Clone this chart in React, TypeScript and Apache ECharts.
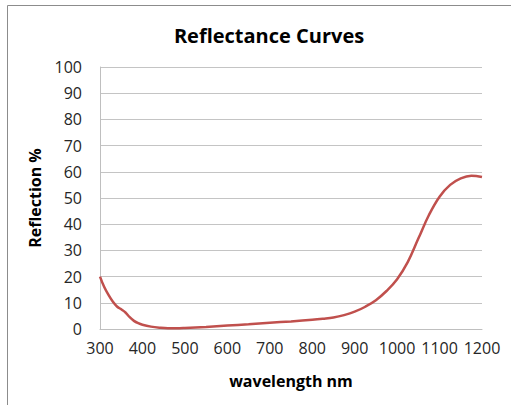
import React, { useEffect, useRef } from "react";
import * as echarts from "echarts";

const wavelengths = [300, 310, 320, 330, 340, 350, 360, 370, 380, 390, 400, 420, 440, 460, 480, 500, 550, 600, 650, 700, 750, 800, 825, 850, 875, 900, 925, 950, 975, 1000, 1025, 1050, 1075, 1100, 1125, 1150, 1175, 1200];
const reflection = [20, 16, 13, 10.5, 8.6, 7.5, 6.3, 4.5, 3.1, 2.2, 1.6, 0.9, 0.5, 0.3, 0.3, 0.4, 0.8, 1.3, 1.8, 2.4, 2.9, 3.5, 3.9, 4.4, 5.3, 6.6, 8.5, 11, 14.5, 19, 25.5, 34.5, 43.5, 50.5, 55, 57.5, 58.5, 58];

const titleText = "Reflectance Curves";
const xName = "wavelength nm";
const yName = "Reflection %";

export default function App() {
  const ref = useRef<HTMLDivElement>(null);
  useEffect(() => {
    if (!ref.current) return;
    const chart = echarts.init(ref.current, null, { renderer: "svg" });
    const font = "'Open Sans', 'Liberation Sans', sans-serif";
    chart.setOption({
      animation: false,
      backgroundColor: "#ffffff",
      title: {
        text: titleText,
        left: 264,
        top: 20,
        textAlign: "center",
        textStyle: { fontFamily: font, fontWeight: "bold", fontSize: 20, color: "#000000" },
      },
      graphic: [
        {
          type: "rect",
          shape: { x: 7.5, y: 5.5, width: 600, height: 500 },
          style: { fill: "none", stroke: "#8c8c8c", lineWidth: 1 },
          silent: true,
        },
      ],
      grid: { left: 100, right: 29, top: 67, bottom: 76, containLabel: false },
      xAxis: {
        type: "value",
        min: 300,
        max: 1200,
        interval: 100,
        name: xName,
        nameLocation: "middle",
        nameGap: 44,
        nameTextStyle: { fontFamily: font, fontWeight: "bold", fontSize: 16, color: "#000000" },
        axisLine: { show: true, lineStyle: { color: "#bfbfbf", width: 1 } },
        axisTick: { show: false },
        splitLine: { show: false },
        axisLabel: { fontFamily: font, fontSize: 16, color: "#262626", margin: 11, formatter: (v: number) => String(v) },
      },
      yAxis: {
        type: "value",
        min: 0,
        max: 100,
        interval: 10,
        name: yName,
        nameLocation: "middle",
        nameGap: 57,
        nameRotate: 90,
        nameTextStyle: { fontFamily: font, fontWeight: "bold", fontSize: 16, color: "#000000" },
        axisLine: { show: true, lineStyle: { color: "#bfbfbf", width: 1 } },
        axisTick: { show: false },
        splitLine: { show: true, lineStyle: { color: "#c4c4c4", width: 1 } },
        axisLabel: { fontFamily: font, fontSize: 16, color: "#262626", margin: 18 },
      },
      series: [
        {
          type: "line",
          data: wavelengths.map((w, i) => [w, reflection[i]]),
          smooth: 0.4,
          showSymbol: false,
          lineStyle: { color: "#c0504d", width: 2.5 },
        },
      ],
    });
    return () => chart.dispose();
  }, []);
  return <div ref={ref} style={{ position: "fixed", left: 0, top: 0, width: 511, height: 405 }} />;
}
